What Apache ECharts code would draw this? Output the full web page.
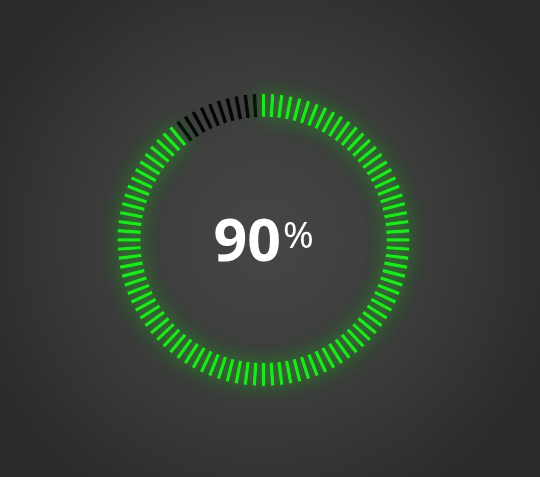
<!DOCTYPE html>
<html>
<head>
<meta charset="utf-8">
<script src="https://cdn.jsdelivr.net/npm/echarts@6/dist/echarts.min.js"></script>
<style>
  html, body { margin: 0; padding: 0; }
  #main { width: 540px; height: 477px; }
</style>
</head>
<body>
<div id="main"></div>
<script>
// data
var percentValue = [90];
var tickTotal = [100];

var green = '#22e622';
var val = percentValue[0];
var total = tickTotal[0];
var step = 360 / total;

var chart = echarts.init(document.getElementById('main'));

var ringCommon = {
  type: 'gauge',
  center: ['48.8%', '50.3%'],
  radius: 147,
  min: 0,
  max: total,
  startAngle: 90,
  pointer: { show: false },
  axisTick: { show: false },
  axisLabel: { show: false },
  title: { show: false },
  anchor: { show: false },
  progress: { show: false }
};

chart.setOption({
  backgroundColor: {
    type: 'radial', x: 0.49, y: 0.5, r: 0.62,
    colorStops: [
      { offset: 0, color: '#464646' },
      { offset: 0.55, color: '#3c3c3c' },
      { offset: 1, color: '#2c2c2c' }
    ]
  },
  series: [
    // full ring of dark ticks
    Object.assign({}, ringCommon, {
      endAngle: -270,
      splitNumber: total,
      axisLine: { show: true, lineStyle: { width: 1, color: [[1, 'rgba(0,0,0,0)']] } },
      splitLine: { show: true, distance: 0, length: 23, lineStyle: { color: '#050505', width: 3.4, cap: 'butt' } },
      detail: { show: false },
      data: [{ value: val }]
    }),
    // green ticks, one per percent
    Object.assign({}, ringCommon, {
      endAngle: 90 - step * (val - 1),
      max: val - 1,
      splitNumber: val - 1,
      axisLine: { show: true, lineStyle: { width: 1, color: [[1, 'rgba(0,0,0,0)']] } },
      splitLine: {
        show: true, distance: 0, length: 23,
        lineStyle: { color: green, width: 3.4, cap: 'butt', shadowBlur: 20, shadowColor: 'rgba(34,230,34,0.85)' }
      },
      detail: {
        show: true,
        offsetCenter: [0, 4],
        formatter: function () {
          return '{a|' + val + '}{b|%}';
        },
        rich: {
          a: { fontFamily: 'Noto Sans', fontWeight: 'bold', fontSize: 59, color: '#ffffff', padding: [0, 2, 0, 0] },
          b: { fontFamily: 'Noto Sans', fontWeight: 'normal', fontSize: 37, color: '#ffffff', padding: [0, 0, 13, 0] }
        }
      },
      data: [{ value: val }]
    })
  ]
});
</script>
</body>
</html>
